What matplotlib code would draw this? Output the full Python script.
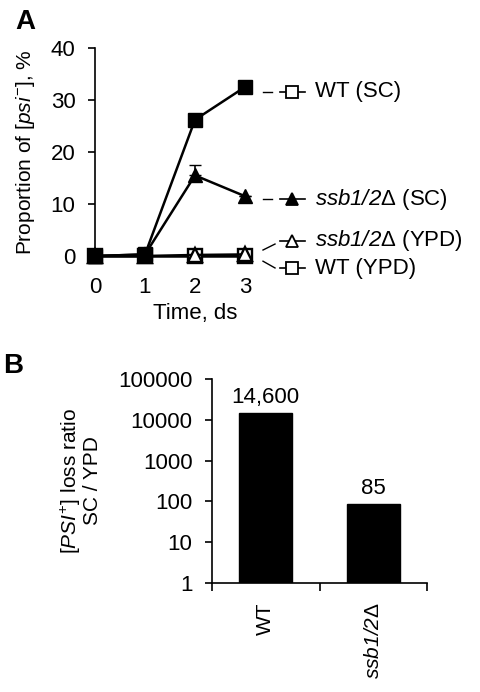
import matplotlib
matplotlib.use("Agg")
import matplotlib.pyplot as plt

plt.rcParams['font.family'] = ['Liberation Sans', 'DejaVu Sans']
plt.rcParams['mathtext.fontset'] = 'custom'
plt.rcParams['mathtext.rm'] = 'Liberation Sans'
plt.rcParams['mathtext.it'] = 'Liberation Sans:italic'
# sf slot used for fully italic names (digits too)
plt.rcParams['mathtext.sf'] = 'Liberation Sans:italic'
plt.rcParams['mathtext.bf'] = 'Liberation Sans:bold'

# === Panel A data ===
days = [0, 1, 2, 3]
wt_sc = [0, 0.3, 26.2, 32.5]
ssb_sc = [0, 0.3, 15.5, 11.5]
ssb_sc_err_up = [0, 0, 2.0, 0]
ssb_ypd = [0, 0, 0.2, 0.3]
wt_ypd = [0, 0, 0, 0]
time_ticks = [0, 1, 2, 3]
prop_ticks = [0, 10, 20, 30, 40]

# === Panel B data ===
strains = ["WT", r"$\mathsf{ssb1/2}$Δ"]
loss_ratio = [14600, 85]
ratio_labels = ["14,600", "85"]

FS = 16    # horizontal text
FSR = 15   # rotated text
fig = plt.figure(figsize=(4.81, 6.92), dpi=100)

# ---------- Panel A ----------
axA = fig.add_axes([95 / 481, 1 - 256 / 692, 150 / 481, 208 / 692])
lw = 1.8
ms = 10.5
axA.plot(days, wt_ypd, '-s', color='black', mfc='white', mec='black', mew=1.7,
         ms=ms, lw=lw, clip_on=False, zorder=3)
axA.plot(days, ssb_ypd, '-^', color='black', mfc='white', mec='black', mew=1.7,
         ms=ms, lw=lw, clip_on=False, zorder=4)
axA.errorbar(days, ssb_sc, yerr=[[0] * 4, ssb_sc_err_up], fmt='-^', color='black',
             mfc='black', ms=ms, lw=lw, capsize=4, elinewidth=1.2, clip_on=False, zorder=5)
axA.plot(days, wt_sc, '-s', color='black', mfc='black', ms=ms, lw=lw,
         clip_on=False, zorder=6)

axA.set_xlim(0, 3)
axA.set_ylim(0, 40)
axA.set_xticks(time_ticks)
axA.set_yticks(prop_ticks)
axA.tick_params(axis='x', length=0, pad=15, labelsize=FS)
axA.tick_params(axis='y', direction='out', length=5, width=1.2, pad=9, labelsize=FS)
for s in ['top', 'right']:
    axA.spines[s].set_visible(False)
axA.spines['left'].set_linewidth(1.2)
axA.spines['bottom'].set_linewidth(1.2)
axA.set_ylabel(r"Proportion of [$\mathit{psi}^{-}$], %", fontsize=FSR)
axA.yaxis.set_label_coords(-0.385, 0.5)
axA.set_xlabel("Time, ds", fontsize=FS)
axA.xaxis.set_label_coords(0.667, -0.225)

# inline legend on the right: leader line (x0, y0, x1, y1), legend y, marker, fill, label
legend_rows = [
    ((3.36, 31.6, 3.54, 31.6), 31.6, 's', 'white', "WT (SC)"),
    ((3.36, 10.9, 3.54, 10.9), 10.9, '^', 'black', r"$\mathsf{ssb1/2}$Δ (SC)"),
    ((3.36, 1.15, 3.6, 2.3), 2.9, '^', 'white', r"$\mathsf{ssb1/2}$Δ (YPD)"),
    ((3.36, -1.0, 3.6, -2.3), -2.4, 's', 'white', "WT (YPD)"),
]
for (x0, y0, x1, y1), yl, mk, fc, lab in legend_rows:
    axA.plot([x0, x1], [y0, y1], color='black', lw=1.0, clip_on=False)
    axA.plot([3.7, 4.2], [yl, yl], color='black', lw=1.2, clip_on=False)
    axA.plot([3.95], [yl], marker=mk, mfc=fc, mec='black', mew=1.3, ms=8,
             color='black', clip_on=False)
    axA.text(4.4, yl, lab, fontsize=FS, va='center', ha='left', clip_on=False)

fig.text(15 / 481, 1 - 29 / 692, "A", fontsize=20, fontweight='bold')

# ---------- Panel B ----------
axB = fig.add_axes([212 / 481, 1 - 583 / 692, 215 / 481, 204 / 692])
pos = [0.5, 1.5]
bars = axB.bar(pos, loss_ratio, width=0.49, color='black', edgecolor='black')
axB.set_yscale('log')
axB.set_ylim(1, 100000)
axB.set_xlim(0, 2)
axB.set_yticks([1, 10, 100, 1000, 10000, 100000])
axB.set_yticklabels(["1", "10", "100", "1000", "10000", "100000"])
axB.tick_params(axis='y', which='major', direction='out', length=5, width=1.2,
                pad=9, labelsize=FS)
axB.tick_params(axis='y', which='minor', direction='out', length=3, width=0.8)
axB.set_xticks([0, 1, 2])
axB.set_xticklabels([])
axB.tick_params(axis='x', which='major', direction='out', length=6, width=1.2)
axB.set_xticks(pos, minor=True)
axB.set_xticklabels(strains, minor=True, rotation=90, fontsize=FSR, va='top')
axB.tick_params(axis='x', which='minor', length=0, pad=14)
for s in ['top', 'right']:
    axB.spines[s].set_visible(False)
axB.spines['left'].set_linewidth(1.2)
axB.spines['bottom'].set_linewidth(1.2)
axB.bar_label(bars, labels=ratio_labels, padding=4, fontsize=FS)
axB.set_ylabel(r"[$\mathit{PSI}^{+}$] loss ratio" + "\nSC / YPD", fontsize=FSR,
               linespacing=1.0)
axB.yaxis.set_label_coords(-0.51, 0.5)

fig.text(3 / 481, 1 - 373 / 692, "B", fontsize=20, fontweight='bold')

fig.savefig("out.png", dpi=100)
